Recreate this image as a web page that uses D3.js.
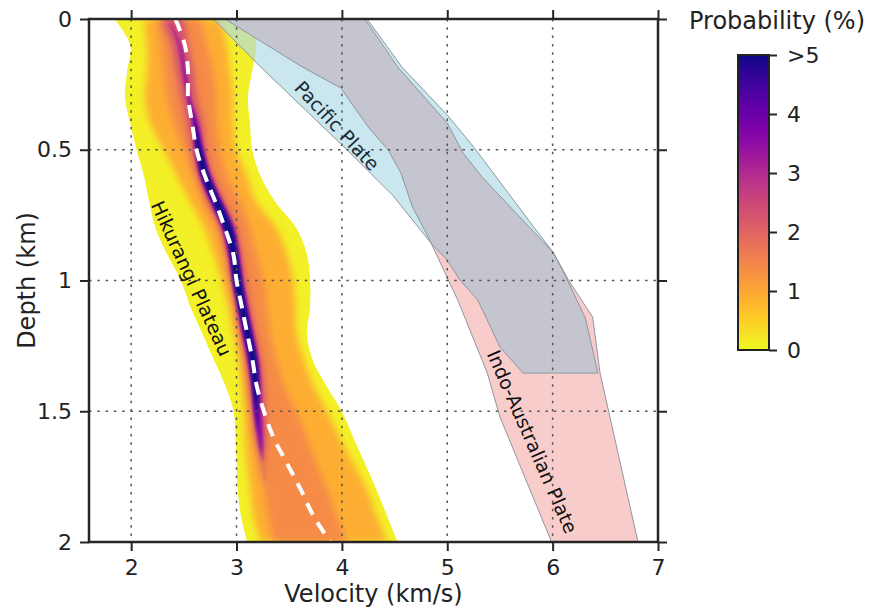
<!DOCTYPE html>
<html>
<head>
<meta charset="utf-8">
<script src="https://cdnjs.cloudflare.com/ajax/libs/d3/7.8.5/d3.min.js"></script>
<style>
  body { margin: 0; background: #fff; }
  text { font-family: "DejaVu Sans", Verdana, sans-serif; }
</style>
</head>
<body>
<div id="chart"></div>
<script>
// values (velocity in km/s, depth in km)

var depthKnots = [0, 0.1, 0.2, 0.3, 0.4, 0.5, 0.6, 0.7, 0.8, 0.9, 1.0,
                  1.1, 1.2, 1.3, 1.4, 1.5, 1.6, 1.7, 1.8, 1.9, 2.0];

// probability bands (%), outer envelope first, core last
var bandLevels = [0.1, 0.9, 1.4, 2.4, 3.5, 5];

var outerLeft  = [1.84, 1.99, 1.96, 1.94, 1.99, 2.05, 2.12, 2.17, 2.23, 2.34, 2.47, 2.56, 2.67, 2.78, 2.89, 2.97, 2.99, 3.00, 3.01, 3.04, 3.10];
var outerRight = [3.15, 3.19, 3.15, 3.11, 3.13, 3.15, 3.23, 3.37, 3.57, 3.67, 3.70, 3.70, 3.67, 3.72, 3.85, 4.00, 4.11, 4.22, 4.33, 4.43, 4.53];

var bandALeft  = [2.12, 2.15, 2.15, 2.13, 2.18, 2.31, 2.43, 2.56, 2.69, 2.78, 2.86, 2.92, 2.97, 3.02, 3.05, 3.07, 3.08, 3.10, 3.13, 3.16, 3.23];
var bandARight = [2.85, 2.91, 2.94, 2.97, 2.97, 3.00, 3.10, 3.19, 3.38, 3.48, 3.54, 3.56, 3.57, 3.64, 3.73, 3.86, 3.98, 4.11, 4.24, 4.33, 4.43];

var bandBLeft  = [2.24, 2.28, 2.31, 2.34, 2.40, 2.50, 2.59, 2.69, 2.81, 2.89, 2.94, 2.99, 3.04, 3.08, 3.11, 3.15, 3.18, 3.21, 3.26, 3.30, 3.35];
var bandBRight = [2.66, 2.72, 2.78, 2.81, 2.81, 2.85, 2.91, 3.04, 3.13, 3.19, 3.26, 3.29, 3.32, 3.38, 3.45, 3.57, 3.67, 3.76, 3.86, 3.95, 4.05];

var bandCLeft  = [2.29, 2.39, 2.43, 2.48, 2.53, 2.58, 2.64, 2.73, 2.85, 2.91, 2.95, 3.00, 3.04, 3.09, 3.12, 3.15, 3.18, 3.24, 3.28, 3.31, 3.34];
var bandCRight = [2.50, 2.54, 2.59, 2.62, 2.68, 2.71, 2.78, 2.89, 3.00, 3.05, 3.09, 3.13, 3.18, 3.23, 3.26, 3.27, 3.28, 3.26, 3.28, 3.31, 3.34];

var bandDLeft  = [2.35, 2.45, 2.49, 2.53, 2.58, 2.60, 2.65, 2.75, 2.86, 2.92, 2.96, 3.00, 3.05, 3.10, 3.14, 3.16, 3.20, 3.25, 3.28, 3.31, 3.34];
var bandDRight = [2.35, 2.47, 2.52, 2.56, 2.64, 2.69, 2.76, 2.87, 2.98, 3.03, 3.06, 3.11, 3.16, 3.21, 3.23, 3.24, 3.25, 3.25, 3.28, 3.31, 3.34];

var bandELeft  = [2.34, 2.45, 2.50, 2.54, 2.60, 2.62, 2.67, 2.77, 2.88, 2.94, 2.97, 3.02, 3.07, 3.12, 3.15, 3.18, 3.21, 3.25, 3.28, 3.31, 3.34];
var bandERight = [2.34, 2.45, 2.50, 2.54, 2.61, 2.67, 2.74, 2.85, 2.96, 3.01, 3.05, 3.09, 3.14, 3.19, 3.21, 3.20, 3.21, 3.25, 3.28, 3.31, 3.34];

// dashed mean profile
var meanVel = [2.42, 2.51, 2.54, 2.54, 2.58, 2.62, 2.70, 2.80, 2.89, 2.97, 3.00, 3.05, 3.10, 3.15, 3.19, 3.26, 3.35, 3.48, 3.61, 3.73, 3.89];

// plate polygons
var pacificVel   = [2.78, 3.21, 4.05, 4.48, 4.86, 5.00, 5.12, 5.29, 5.50, 5.72, 6.43, 6.31, 6.14, 6.01, 5.82, 5.25, 5.00, 4.57, 4.24];
var pacificDepth = [0, 0.176, 0.501, 0.673, 0.864, 0.922, 0.998, 1.075, 1.254, 1.354, 1.354, 1.143, 0.998, 0.895, 0.795, 0.489, 0.367, 0.184, 0];

var indoVel   = [2.89, 3.61, 3.99, 4.25, 4.44, 4.56, 4.67, 4.82, 5.01, 5.10, 5.38, 5.50, 5.99, 6.81, 6.45, 6.38, 6.15, 6.01, 5.33, 5.15, 5.00, 4.53, 4.22];
var indoDepth = [0, 0.180, 0.264, 0.413, 0.501, 0.589, 0.719, 0.834, 0.998, 1.075, 1.354, 1.522, 2.0, 2.0, 1.354, 1.140, 0.998, 0.895, 0.604, 0.512, 0.398, 0.184, 0];

var xTicks = [2, 3, 4, 5, 6, 7];
var yTicks = [0, 0.5, 1, 1.5, 2];
var xGrid = [2, 3, 4, 5, 6];
var yGrid = [0.5, 1, 1.5];
var cbTicks = [0, 1, 2, 3, 4, 5];
var cbLabels = ["0", "1", "2", "3", "4", ">5"];

// chart size

var svgWidth = 871;
var svgHeight = 609;

var margin = {
  top: 19,
  right: 213,
  bottom: 67,
  left: 89
};

var width = svgWidth - margin.left - margin.right;
var height = svgHeight - margin.top - margin.bottom;

var svg = d3.select("#chart")
  .append("svg")
  .attr("width", svgWidth)
  .attr("height", svgHeight);

var defs = svg.append("defs");

var chartGroup = svg.append("g")
  .attr("transform", `translate(${margin.left}, ${margin.top})`);

// scales

var x = d3.scaleLinear().domain([1.6, 7]).range([0, width]);
var y = d3.scaleLinear().domain([0, 2]).range([0, height]);

var probColor = d3.scaleSequential(function (t) { return d3.interpolatePlasma(1 - t); })
  .domain([0, 5]);

function bandRows(left, right) {
  return depthKnots.map(function (d, i) {
    return { depth: d, left: left[i], right: right[i] };
  });
}

var bandArea = d3.area()
  .curve(d3.curveCatmullRom)
  .y(d => y(d.depth))
  .x0(d => x(d.left))
  .x1(d => x(d.right));

var polyLine = d3.line()
  .x(d => x(d.v))
  .y(d => y(d.d));

function polyRows(vel, dep) {
  return vel.map(function (v, i) { return { v: v, d: dep[i] }; });
}

// filters and clips

defs.append("filter").attr("id", "soft")
  .attr("x", "-50%").attr("y", "-10%").attr("width", "200%").attr("height", "120%")
  .append("feGaussianBlur").attr("stdDeviation", 3.5);

defs.append("filter").attr("id", "softCore")
  .attr("x", "-50%").attr("y", "-10%").attr("width", "200%").attr("height", "120%")
  .append("feGaussianBlur").attr("stdDeviation", 1.5);

var outerRows = bandRows(outerLeft, outerRight);

defs.append("clipPath").attr("id", "envClip")
  .append("path").attr("d", bandArea(outerRows));

var pacificRows = polyRows(pacificVel, pacificDepth);
var indoRows = polyRows(indoVel, indoDepth);

defs.append("clipPath").attr("id", "pacClip")
  .append("path").attr("d", polyLine(pacificRows) + "Z");

defs.append("clipPath").attr("id", "plotClip")
  .append("rect").attr("width", width).attr("height", height);

// probability density

var heat = chartGroup.append("g").attr("clip-path", "url(#envClip)");

var bands = [
  bandRows(outerLeft, outerRight),
  bandRows(bandALeft, bandARight),
  bandRows(bandBLeft, bandBRight),
  bandRows(bandCLeft, bandCRight),
  bandRows(bandDLeft, bandDRight),
  bandRows(bandELeft, bandERight)
];

heat.selectAll("path.band")
  .data(bands)
  .enter()
  .append("path")
  .attr("class", "band")
  .attr("d", bandArea)
  .attr("fill", (d, i) => probColor(bandLevels[i]))
  .attr("filter", (d, i) => i === 0 ? null : (i >= 4 ? "url(#softCore)" : "url(#soft)"));

// plates

var plates = chartGroup.append("g").attr("clip-path", "url(#plotClip)");

plates.append("path")
  .attr("d", polyLine(pacificRows) + "Z")
  .attr("fill", "#add8e6")
  .attr("fill-opacity", 0.65);

plates.append("path")
  .attr("d", polyLine(indoRows) + "Z")
  .attr("fill", "#f08080")
  .attr("fill-opacity", 0.4);

plates.append("path")
  .attr("d", polyLine(indoRows) + "Z")
  .attr("clip-path", "url(#pacClip)")
  .attr("fill", "#c4c5cf");

plates.selectAll("path.edge")
  .data([pacificRows, indoRows])
  .enter()
  .append("path")
  .attr("class", "edge")
  .attr("d", d => polyLine(d) + "Z")
  .attr("fill", "none")
  .attr("stroke", "#8f979e")
  .attr("stroke-width", 1);

// grid

chartGroup.selectAll("line.gx")
  .data(xGrid)
  .enter()
  .append("line")
  .attr("class", "gx")
  .attr("x1", d => x(d)).attr("x2", d => x(d))
  .attr("y1", 0).attr("y2", height)
  .attr("stroke", "#555")
  .attr("stroke-width", 1.5)
  .attr("stroke-dasharray", "2.5,5.8");

chartGroup.selectAll("line.gy")
  .data(yGrid)
  .enter()
  .append("line")
  .attr("class", "gy")
  .attr("y1", d => y(d)).attr("y2", d => y(d))
  .attr("x1", 0).attr("x2", width)
  .attr("stroke", "#555")
  .attr("stroke-width", 1.5)
  .attr("stroke-dasharray", "2.5,5.8");

// mean profile

var meanLine = d3.line()
  .curve(d3.curveCatmullRom)
  .x(d => x(d.v))
  .y(d => y(d.d));

chartGroup.append("path")
  .attr("d", meanLine(polyRows(meanVel, depthKnots)))
  .attr("fill", "none")
  .attr("stroke", "#fff")
  .attr("stroke-width", 4)
  .attr("stroke-dasharray", "13,9");

// region labels

var labelData = [
  { text: "Pacific Plate", v: 3.954, d: 0.409, angle: 47, color: "#1b2b38" },
  { text: "Hikurangi Plateau", v: 2.573, d: 0.992, angle: 65.5, color: "#111" },
  { text: "Indo-Australian Plate", v: 5.805, d: 1.616, angle: 66.4, color: "#111" }
];

chartGroup.selectAll("text.region")
  .data(labelData)
  .enter()
  .append("text")
  .attr("class", "region")
  .attr("transform", d => `translate(${x(d.v)}, ${y(d.d)}) rotate(${d.angle})`)
  .attr("text-anchor", "middle")
  .attr("dy", "0.35em")
  .style("font-size", "19px")
  .attr("fill", d => d.color)
  .text(d => d.text);

// axes

function styleAxis(g) {
  g.select(".domain").remove();
  g.selectAll(".tick line").attr("stroke", "#262626").attr("stroke-width", 2);
  g.selectAll(".tick text")
    .attr("fill", "#222")
    .style("font-size", "22px")
    .style("font-family", "'DejaVu Sans', Verdana, sans-serif");
}

chartGroup.append("g")
  .attr("transform", `translate(0, ${height})`)
  .call(d3.axisBottom(x).tickValues(xTicks).tickSize(9).tickPadding(8).tickFormat(d3.format("d")))
  .call(styleAxis);

chartGroup.append("g")
  .call(d3.axisTop(x).tickValues(xTicks).tickSize(9).tickFormat(""))
  .call(styleAxis);

chartGroup.append("g")
  .call(d3.axisLeft(y).tickValues(yTicks).tickSize(9).tickPadding(8).tickFormat(d => String(d)))
  .call(styleAxis);

chartGroup.append("g")
  .attr("transform", `translate(${width}, 0)`)
  .call(d3.axisRight(y).tickValues(yTicks).tickSize(9).tickFormat(""))
  .call(styleAxis);

chartGroup.append("rect")
  .attr("width", width)
  .attr("height", height)
  .attr("fill", "none")
  .attr("stroke", "#262626")
  .attr("stroke-width", 2.5);

// axis titles

chartGroup.append("text")
  .attr("x", width / 2)
  .attr("y", height + 60)
  .attr("text-anchor", "middle")
  .style("font-size", "24px")
  .attr("fill", "#222")
  .text("Velocity (km/s)");

chartGroup.append("text")
  .attr("transform", `translate(-54, ${height / 2}) rotate(-90)`)
  .attr("text-anchor", "middle")
  .style("font-size", "24px")
  .attr("fill", "#222")
  .text("Depth (km)");

// colour bar

var cbX = 738, cbTop = 55, cbW = 31, cbH = 295;

var cbScale = d3.scaleLinear().domain([0, 5]).range([cbTop + cbH, cbTop]);

var grad = defs.append("linearGradient")
  .attr("id", "cbGrad")
  .attr("x1", 0).attr("y1", 1).attr("x2", 0).attr("y2", 0);

grad.selectAll("stop")
  .data(d3.range(0, 1.0001, 0.05))
  .enter()
  .append("stop")
  .attr("offset", d => d)
  .attr("stop-color", d => probColor(d * 5));

svg.append("rect")
  .attr("x", cbX).attr("y", cbTop)
  .attr("width", cbW).attr("height", cbH)
  .attr("fill", "url(#cbGrad)")
  .attr("stroke", "#222")
  .attr("stroke-width", 2);

svg.append("g")
  .attr("transform", `translate(${cbX + cbW}, 0)`)
  .call(d3.axisRight(cbScale).tickValues(cbTicks).tickSize(8).tickPadding(10)
    .tickFormat((d, i) => cbLabels[i]))
  .call(styleAxis);

svg.append("text")
  .attr("x", 777)
  .attr("y", 29)
  .attr("text-anchor", "middle")
  .style("font-size", "24px")
  .attr("fill", "#222")
  .text("Probability (%)");
</script>
</body>
</html>
